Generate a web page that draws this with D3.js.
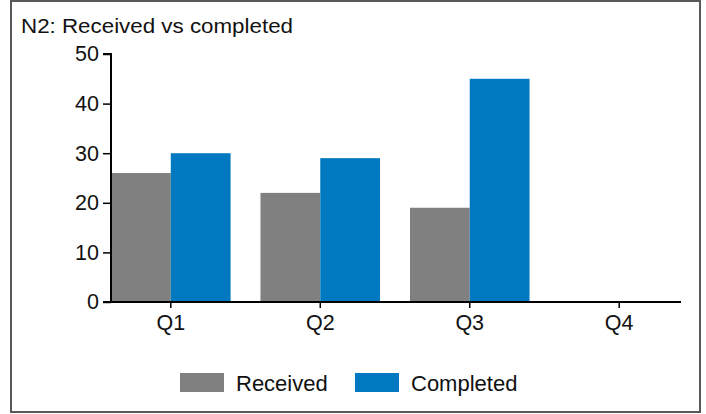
<!DOCTYPE html>
<html><head><meta charset="utf-8">
<script src="https://cdn.jsdelivr.net/npm/d3@7/dist/d3.min.js"></script>
<style>body{margin:0;background:#fff;}svg{display:block;font-family:"Liberation Sans",Arial,sans-serif;}</style>
</head><body>
<script>
const categories = ["Q1","Q2","Q3","Q4"];
const seriesNames = ["Received","Completed"];
const received = [26, 22, 19, null];
const completed = [30, 29, 45, null];
const yTicks = [0,10,20,30,40,50];
const colors = ["#808080","#0079C1"];

const W = 706, H = 414;
const svg = d3.select("body").append("svg").attr("width", W).attr("height", H);
svg.append("rect").attr("x",11).attr("y",1).attr("width",689).attr("height",411)
  .attr("fill","#fff").attr("stroke","#595959").attr("stroke-width",2);

svg.append("text").attr("x",21).attr("y",33).attr("font-size",20).attr("fill","#111")
  .attr("textLength",272).attr("lengthAdjust","spacingAndGlyphs")
  .text("N2: Received vs completed");

const x0 = d3.scaleBand().domain(categories).range([111,679]).paddingInner(0.2).paddingOuter(0);
const x1 = d3.scaleBand().domain(seriesNames).range([0,x0.bandwidth()]);
const y = d3.scaleLinear().domain([0,50]).range([302,54]);

const data = categories.map((c,i)=>({cat:c, vals:[received[i],completed[i]]}));
const g = svg.append("g");
data.forEach(d=>{
  d.vals.forEach((v,j)=>{
    if(v==null) return;
    g.append("rect").attr("x",x0(d.cat)+x1(seriesNames[j])).attr("width",x1.bandwidth())
      .attr("y",y(v)).attr("height",y(0)-y(v)).attr("fill",colors[j]);
  });
});

const yAxis = svg.append("g").attr("transform","translate(111,0)")
  .call(d3.axisLeft(y).tickValues(yTicks).tickSize(8).tickPadding(4));
yAxis.select(".domain").attr("d","M-8,54H0V302").attr("stroke","#000").attr("stroke-width",2).attr("fill","none");
yAxis.selectAll(".tick line").attr("stroke","#000").attr("stroke-width",1.5);
yAxis.selectAll(".tick text").attr("font-size",21.5).attr("fill","#111").attr("font-family","Liberation Sans, Arial, sans-serif");

const xAxis = svg.append("g").attr("transform","translate(0,302)")
  .call(d3.axisBottom(x0).tickSize(6).tickPadding(7).tickSizeOuter(0));
xAxis.selectAll(".tick").attr("transform", d=>`translate(${x0(d)+x0.bandwidth()/2},0)`);
xAxis.select(".domain").attr("d","M103,0H681").attr("stroke","#000").attr("stroke-width",2);
xAxis.selectAll(".tick line").attr("stroke","#000").attr("stroke-width",1.5);
xAxis.selectAll(".tick text").attr("font-size",21.5).attr("fill","#111").attr("font-family","Liberation Sans, Arial, sans-serif");

const legend = svg.append("g");
const legX = [180, 355];
seriesNames.forEach((n,i)=>{
  legend.append("rect").attr("x",legX[i]).attr("y",373).attr("width",44).attr("height",19)
    .attr("fill",colors[i]);
  legend.append("text").attr("x",legX[i]+56).attr("y",391).attr("font-size",22).attr("fill","#111").text(n);
});
</script>
</body></html>
